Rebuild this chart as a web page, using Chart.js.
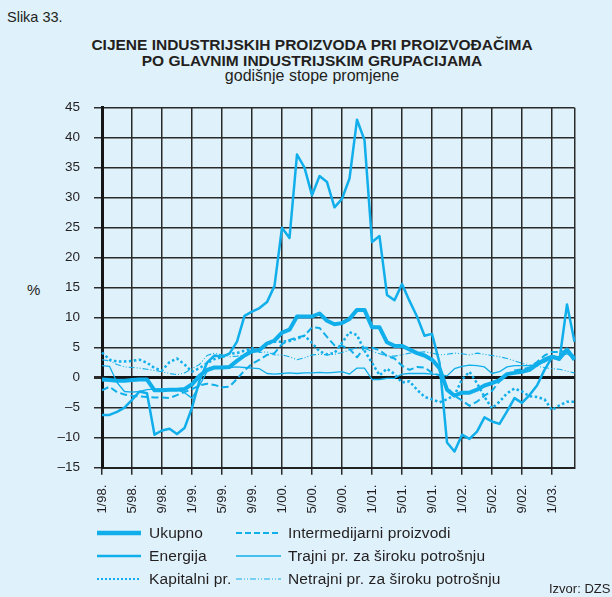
<!DOCTYPE html>
<html lang="hr">
<head>
<meta charset="utf-8">
<title>Slika 33.</title>
<script src="https://cdn.jsdelivr.net/npm/chart.js@4/dist/chart.umd.min.js"></script>
<style>
  html, body { margin: 0; padding: 0; }
  body {
    width: 612px; height: 597px; position: relative; overflow: hidden;
    background: #dff1fb; color: #231f20;
    font-family: 'Liberation Sans', Arial, Helvetica, sans-serif;
  }
  .txt   { position: absolute; white-space: nowrap; line-height: 1; }
  #chartBox { position: absolute; left: 0; top: 0; width: 612px; height: 597px; }
  .title { left: 0; width: 624px; text-align: center; font-weight: bold; font-size: 15.5px; }
  .leg   { font-size: 15.5px; letter-spacing: 0.1px; }
</style>
</head>
<body>

<div class="txt" style="left:7px;top:10px;font-size:14.5px">Slika 33.</div>
<div class="txt title" style="top:37px">CIJENE INDUSTRIJSKIH PROIZVODA PRI PROIZVOĐAČIMA</div>
<div class="txt title" style="top:53px">PO GLAVNIM INDUSTRIJSKIM GRUPACIJAMA</div>
<div class="txt" style="left:0;width:624px;text-align:center;top:68px;font-size:16px">godišnje stope promjene</div>
<div class="txt" style="left:27px;top:282px;font-size:15px">%</div>

<div id="chartBox"><canvas id="chart" width="612" height="597"></canvas></div>

<!-- legenda -->
<svg style="position:absolute;left:0;top:0" width="612" height="597">
  <g stroke="#10aeea" fill="none">
    <line x1="97"  y1="533" x2="141" y2="533" stroke-width="4.5"/>
    <line x1="97"  y1="556" x2="141" y2="556" stroke-width="2.5"/>
    <line x1="97"  y1="579" x2="141" y2="579" stroke-width="2.2" stroke-dasharray="2 2"/>
    <line x1="236" y1="533" x2="281" y2="533" stroke-width="2" stroke-dasharray="6 3"/>
    <line x1="236" y1="556" x2="281" y2="556" stroke-width="1.3"/>
    <line x1="236" y1="579" x2="281" y2="579" stroke-width="1.2" stroke-dasharray="6 2 1 2 1 2"/>
  </g>
</svg>
<div class="txt leg" style="left:149px;top:525px">Ukupno</div>
<div class="txt leg" style="left:149px;top:548px">Energija</div>
<div class="txt leg" style="left:149px;top:571px">Kapitalni pr.</div>
<div class="txt leg" style="left:288px;top:525px">Intermedijarni proizvodi</div>
<div class="txt leg" style="left:288px;top:548px">Trajni pr. za široku potrošnju</div>
<div class="txt leg" style="left:288px;top:571px">Netrajni pr. za široku potrošnju</div>
<div class="txt" style="left:549px;top:582px;font-size:13px">Izvor: DZS</div>

<script>
/* ── mjeseci 1/98. – 4/03. ── */
const months = [
  '1/98.','2/98.','3/98.','4/98.','5/98.','6/98.','7/98.','8/98.','9/98.','10/98.','11/98.','12/98.',
  '1/99.','2/99.','3/99.','4/99.','5/99.','6/99.','7/99.','8/99.','9/99.','10/99.','11/99.','12/99.',
  '1/00.','2/00.','3/00.','4/00.','5/00.','6/00.','7/00.','8/00.','9/00.','10/00.','11/00.','12/00.',
  '1/01.','2/01.','3/01.','4/01.','5/01.','6/01.','7/01.','8/01.','9/01.','10/01.','11/01.','12/01.',
  '1/02.','2/02.','3/02.','4/02.','5/02.','6/02.','7/02.','8/02.','9/02.','10/02.','11/02.','12/02.',
  '1/03.','2/03.','3/03.','4/03.'
];

/* ── godišnje stope promjene, % ── */
const ukupno = [
  -0.3,-0.4,-0.5,-0.5,-0.4,-0.3,-0.3,-2.1,-2.1,-2.0, -2.0,-1.9,-1.1,0.3,1.3,1.7,1.7,1.8,2.8,3.7,
  4.4,4.6,5.7,6.2,7.5,8.0,10.2,10.2,10.2,10.7, 9.5,8.9,9.1,9.8,11.3,11.3,8.4,8.4,5.9,5.3,
  5.3,4.7,4.1,3.7,3.0,1.6,-2.0,-3.0,-2.5,-2.5, -2.0,-1.3,-0.9,-0.4,0.6,0.8,1.0,1.3,2.2,3.0,
  3.5,3.2,4.7,3.0
];
const energija = [
  -6.2,-6.2,-5.7,-5.0,-3.7,-2.3,-2.6,-9.5,-8.8,-8.5, -9.4,-8.4,-5.0,-0.5,2.5,3.7,3.5,4.0,6.0,10.3,
  11.0,11.6,12.6,15.3,25.0,23.3,37.2,35.0,30.4,33.6, 32.6,28.4,29.8,33.2,43.0,39.6,22.6,23.6,13.8,12.9,
  15.6,12.8,10.2,7.0,7.3,2.5,-10.8,-12.3,-9.5,-10.2, -9.0,-6.6,-7.3,-7.7,-5.6,-3.4,-4.2,-2.9,-1.3,1.3,
  3.4,3.0,12.2,6.0
];
const kapitalni = [
  4.2,3.0,2.7,2.7,2.8,3.0,2.5,1.6,1.2,2.6, 3.2,2.2,1.0,1.6,2.4,3.1,3.4,4.0,4.1,4.5,
  4.9,4.6,5.6,6.0,6.0,6.1,6.5,7.0,5.8,4.4, 3.9,4.1,5.8,7.6,7.1,4.5,2.5,0.4,1.5,0.6,
  -0.8,-0.6,-2.0,-3.2,-3.6,-4.1,-3.6,-2.9,-0.3,1.0, -0.9,-3.2,-5.1,-4.0,-2.6,-1.8,-2.3,-3.1,-3.2,-3.6,
  -5.4,-4.6,-4.0,-4.0
];
const intermedijarni = [
  -2.1,-1.5,-2.4,-2.8,-3.0,-3.1,-3.2,-3.3,-3.3,-3.4, -2.9,-2.4,-1.9,-1.3,-1.0,-1.2,-1.6,-1.5,-0.2,1.2,
  2.3,3.0,3.8,4.1,5.6,6.3,6.7,7.0,8.4,8.3, 6.8,5.4,5.3,4.8,3.4,5.0,5.0,4.6,3.6,3.2,
  2.0,1.3,1.8,1.7,0.8,0.4,-1.6,-3.0,-3.8,-4.7, -4.0,-3.0,-2.2,-0.6,0.5,1.2,1.4,1.7,2.6,3.7,
  4.3,4.3,4.5,3.5
];
const trajni = [
  2.0,1.9,-0.8,-2.3,-2.4,-2.3,-2.0,-1.9,-1.9,-1.9, -2.0,-2.5,-3.4,-1.3,1.0,1.6,1.7,1.7,1.8,1.7,
  1.6,1.5,0.7,0.6,0.7,0.8,0.7,0.8,0.8,0.9, 0.8,0.9,1.0,0.6,1.6,1.6,-0.3,-0.3,-0.1,-0.1,
  0.6,0.7,0.7,0.7,0.6,0.5,0.3,1.5,1.9,2.1, 2.0,1.8,0.7,1.0,1.8,2.0,2.0,2.0,2.2,2.6,
  3.3,3.5,4.0,3.2
];
const netrajni = [
  3.0,2.8,2.2,1.8,1.7,1.6,1.4,1.2,1.0,0.7, 0.5,0.8,1.5,2.2,3.7,4.1,3.8,3.5,3.6,3.8,
  5.0,4.2,4.3,3.8,3.8,3.5,3.0,3.3,3.8,3.9, 3.8,3.9,4.2,4.6,5.0,4.9,4.4,4.0,3.6,3.6,
  3.8,4.1,4.2,4.3,4.1,3.8,3.9,4.1,4.0,3.8, 4.1,3.9,3.7,3.5,3.2,2.8,2.4,2.1,1.9,1.7,
  1.5,1.4,1.1,0.8
];

const BLUE = '#10aeea';
const GRID = '#2a2a2a';
const FONT = "'Liberation Sans', Arial, sans-serif";

function line(label, data, width, dash) {
  return {
    label, data,
    borderColor: BLUE,
    backgroundColor: BLUE,
    borderWidth: width,
    borderDash: dash || [],
    borderCapStyle: 'butt',
    borderJoinStyle: 'round',
    pointRadius: 0,
    tension: 0,
    fill: false,
  };
}

new Chart(document.getElementById('chart'), {
  type: 'line',
  data: {
    labels: months,
    datasets: [
      line('Ukupno', ukupno, 4),
      line('Energija', energija, 2.5),
      line('Kapitalni pr.', kapitalni, 2.5, [2.5, 2.5]),
      line('Intermedijarni proizvodi', intermedijarni, 2, [7, 3.5]),
      line('Trajni pr. za široku potrošnju', trajni, 1.3),
      line('Netrajni pr. za široku potrošnju', netrajni, 1.1, [6, 2, 1, 2, 1, 2]),
    ],
  },
  options: {
    responsive: false,
    animation: false,
    devicePixelRatio: 1,
    layout: { padding: { left: 0, right: 37.5, top: 107.7, bottom: 0 } },
    plugins: { legend: { display: false }, tooltip: { enabled: false } },
    scales: {
      x: {
        offset: false,
        afterFit: s => { s.height = 129.3; },
        border: { display: true, color: '#222', width: 2 },
        grid: {
          offset: false,
          tickLength: 7,
          lineWidth: 1.5,
          color: ctx => (ctx.index % 4 === 0 || ctx.index === months.length - 1) ? GRID : 'rgba(0,0,0,0)',
          tickColor: ctx => ctx.index % 4 === 0 ? GRID : 'rgba(0,0,0,0)',
        },
        ticks: {
          autoSkip: false,
          minRotation: 90,
          maxRotation: 90,
          padding: 10,
          color: '#231f20',
          font: { family: FONT, size: 13 },
          callback: (v, i) => i % 4 === 0 ? months[i] : '',
        },
      },
      y: {
        min: -15,
        max: 45,
        afterFit: s => { s.width = 102; },
        border: { display: true, color: '#151515', width: 3 },
        grid: {
          tickLength: 8,
          color: ctx => ctx.tick && ctx.tick.value === 0 ? '#151515' : GRID,
          lineWidth: ctx => ctx.tick && ctx.tick.value === 0 ? 3 : 1.5,
          tickColor: GRID,
        },
        ticks: {
          stepSize: 5,
          padding: 14,
          color: '#231f20',
          font: { family: FONT, size: 13.5 },
          callback: v => v < 0 ? '\u2013' + Math.abs(v) : String(v),
        },
      },
    },
  },
});
</script>
</body>
</html>
